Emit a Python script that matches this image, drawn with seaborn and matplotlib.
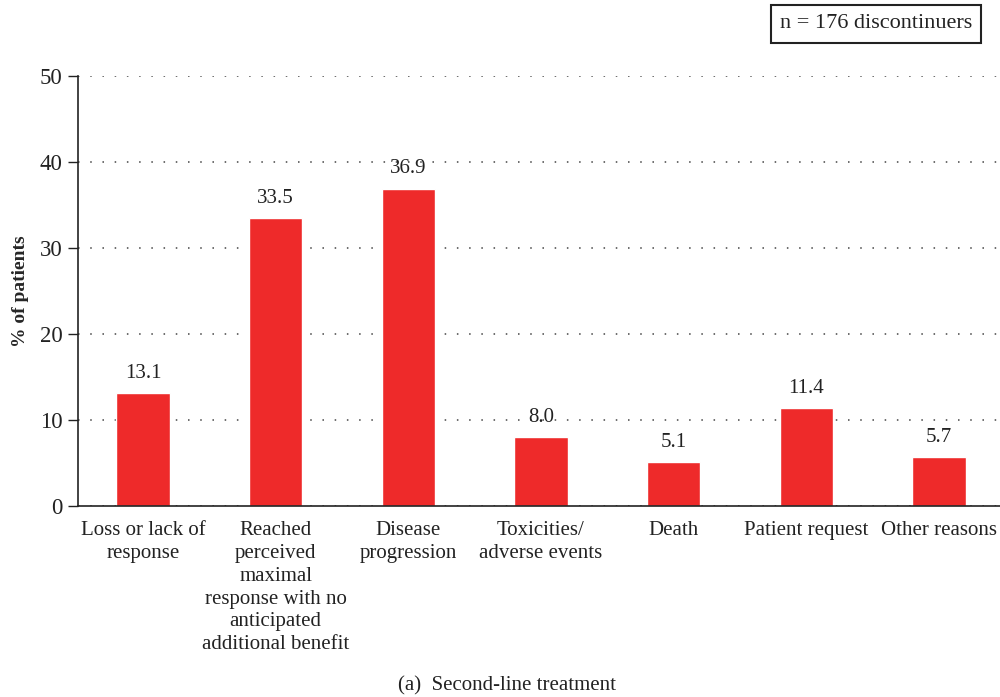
import matplotlib
matplotlib.use('Agg')
import matplotlib.pyplot as plt
import seaborn as sns
import pandas as pd

categories = [
    'Loss or lack of\nresponse',
    'Reached\nperceived\nmaximal\nresponse with no\nanticipated\nadditional benefit',
    'Disease\nprogression',
    'Toxicities/\nadverse events',
    'Death',
    'Patient request',
    'Other reasons',
]
values = [13.1, 33.5, 36.9, 8.0, 5.1, 11.4, 5.7]
y_ticks = [0, 10, 20, 30, 40, 50]

sns.set_style('white')
plt.rcParams['font.family'] = ['Liberation Serif', 'DejaVu Serif']

df = pd.DataFrame({'reason': categories, 'pct': values})

fig = plt.figure(figsize=(10, 6.97), dpi=100)
ax = fig.add_axes([0.078, 0.274, 0.922, 0.617])

sns.barplot(data=df, x='reason', y='pct', color='#ee2a2a', width=0.4,
            saturation=1, ax=ax)

for i, v in enumerate(values):
    ax.text(i, v + 1.2, f'{v:.1f}', ha='center', va='bottom',
            fontsize=15, color='#222222')

ax.set_ylim(0, 50)
ax.set_xlim(-0.49, 6.46)
ax.set_yticks(y_ticks)
ax.yaxis.grid(True, linestyle=(0, (1, 7)), color='#444444', linewidth=1.1)
ax.set_axisbelow(True)
ax.tick_params(axis='y', direction='out', length=7, width=1, colors='#222222',
               labelsize=16.5, left=True, pad=4)
ax.tick_params(axis='x', length=0, labelsize=15, colors='#222222', pad=11)
for lab in ax.get_xticklabels():
    lab.set_linespacing(1.27)

ax.spines['top'].set_visible(False)
ax.spines['right'].set_visible(False)
ax.spines['left'].set_color('#222222')
ax.spines['bottom'].set_color('#222222')
ax.spines['left'].set_linewidth(1.2)
ax.spines['bottom'].set_linewidth(1.2)

ax.set_xlabel('')
ax.set_ylabel('% of patients', fontsize=14, fontweight='bold', labelpad=8)

fig.text(0.876, 0.966, 'n = 176 discontinuers', ha='center', va='center',
         fontsize=16, color='#222222',
         bbox=dict(boxstyle='square,pad=0.42', facecolor='white',
                   edgecolor='#222222', linewidth=1.5))

fig.text(0.507, 0.016, '(a)  Second-line treatment', ha='center', va='center',
         fontsize=15, color='#222222')

fig.savefig('out.png', dpi=100)
